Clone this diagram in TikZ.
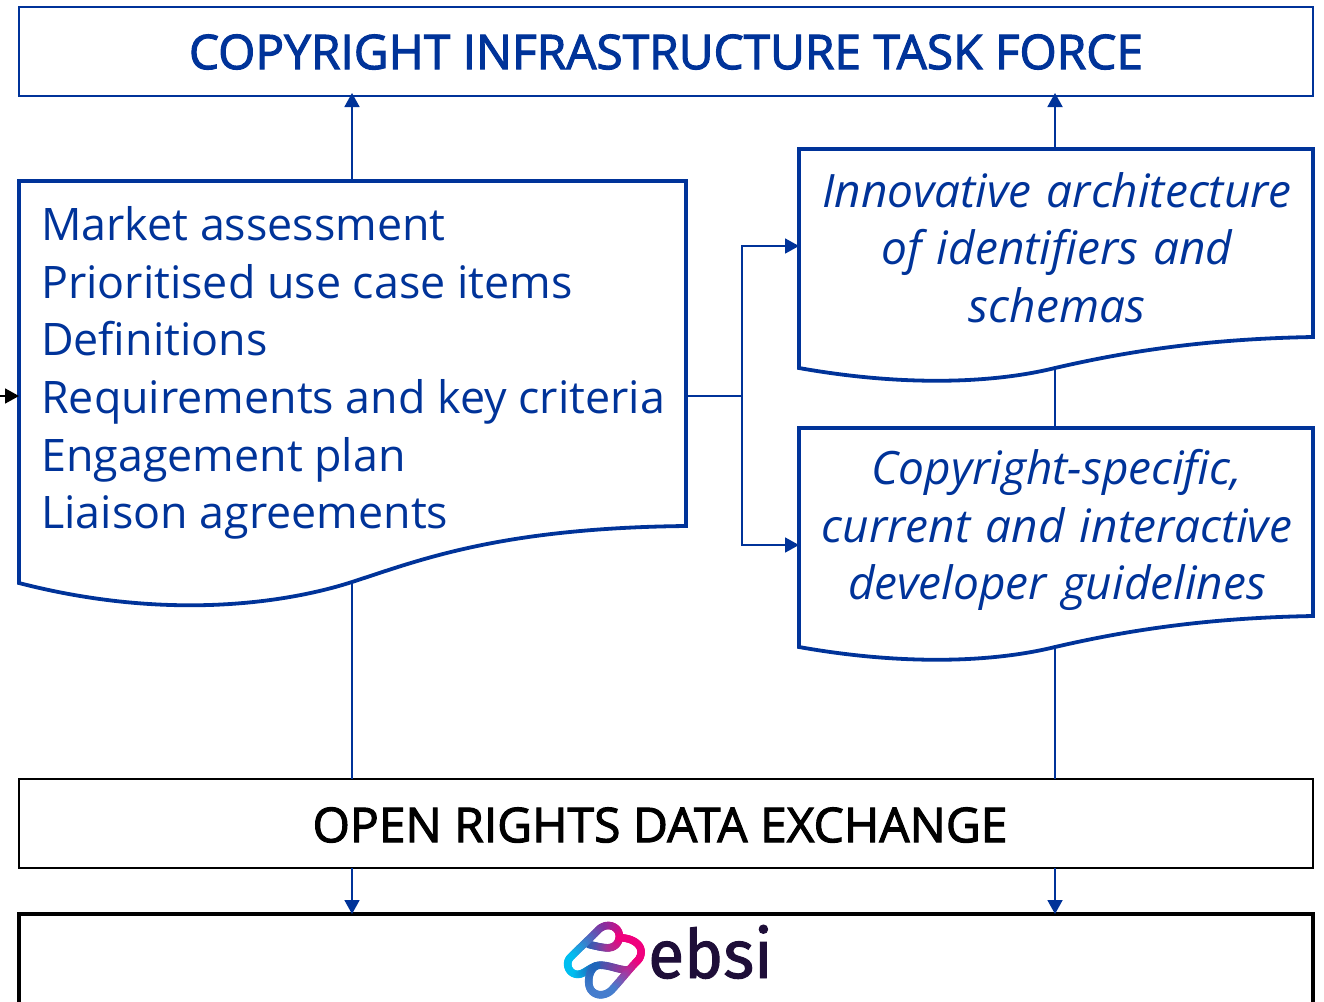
\documentclass[tikz,border=0pt]{standalone}
\usepackage{fontspec}
\setmainfont{Open Sans}
\newfontfamily\titlefont[FakeBold=2.2]{Open Sans}
\newfontfamily\ebsifont[FakeBold=1.4]{Fira Sans}
\usetikzlibrary{arrows.meta,calc}
\definecolor{eublue}{RGB}{0,51,153}
\definecolor{ebsitext}{RGB}{30,14,56}
\definecolor{lcyan}{RGB}{0,190,240}
\definecolor{lblue}{RGB}{30,100,185}
\definecolor{lsteel}{RGB}{70,125,205}
\definecolor{lviolet}{RGB}{130,50,160}
\definecolor{lpurple}{RGB}{165,50,150}
\definecolor{lpink}{RGB}{240,0,125}
% one Bezier piece of the logo, stroked in short pieces from one colour to another
\newcommand{\logoseg}[6]{%
 \foreach \k in {1,...,16}{%
  \pgfmathsetmacro{\ta}{(\k-1)/16}%
  \pgfmathsetmacro{\tb}{\k/16}%
  \pgfmathsetmacro{\pc}{100*(\k-0.5)/16}%
  \pgfmathsetmacro{\aa}{(1-\ta)^3}\pgfmathsetmacro{\ab}{3*(1-\ta)^2*\ta}\pgfmathsetmacro{\ac}{3*(1-\ta)*\ta^2}\pgfmathsetmacro{\ad}{\ta^3}%
  \pgfmathsetmacro{\ba}{(1-\tb)^3}\pgfmathsetmacro{\bb}{3*(1-\tb)^2*\tb}\pgfmathsetmacro{\bc}{3*(1-\tb)*\tb^2}\pgfmathsetmacro{\bd}{\tb^3}%
  \colorlet{cc}{#6!\pc!#5}%
  \draw[logostroke,draw=cc]
   ($\aa*(#1)+\ab*(#2)+\ac*(#3)+\ad*(#4)$) --
   ($\ba*(#1)+\bb*(#2)+\bc*(#3)+\bd*(#4)$);
 }}
\tikzset{
 x=1pt,y=-1pt,
 thinbox/.style={draw=eublue,line width=1.5pt,minimum height=89pt,minimum width=1294pt,anchor=north west,inner sep=0pt,outer sep=0pt,fill=white},
 blackbox/.style={thinbox,draw=black},
 docline/.style={draw=eublue,line width=3.8pt,line join=miter},
 conn/.style={draw=eublue,line width=1.8pt},
 arr/.style={conn,-{Triangle[length=14pt,width=15pt]}},
 bodytxt/.style={text=eublue,font=\fontsize{44.8}{57.6}\selectfont,align=left,anchor=north west,inner sep=0pt},
 itxt/.style={text=eublue,font=\fontsize{46}{57.6}\selectfont\itshape,align=center,inner sep=0pt,text width=510pt},
 anchorbox/.style={inner sep=0pt,outer sep=0pt,minimum width=0pt,minimum height=0pt},
 logostroke/.style={line width=7.6pt,line cap=round},
}
\begin{document}
\begin{tikzpicture}
\useasboundingbox (0,0) rectangle (1324,1001);
\node[thinbox] (cit) at (19,7) {};
\node[text=eublue,font=\fontsize{47.8}{50}\titlefont] (cittxt) at (666,52) {COPYRIGHT INFRASTRUCTURE TASK FORCE};
\node[blackbox] (ord) at (19,779) {};
\node[text=black,font=\fontsize{48}{50}\titlefont] (ordtxt) at (660,825) {OPEN RIGHTS DATA EXCHANGE};
% documents
\draw[docline] (19,181) coordinate (dA) -- (686,181) -- (686,526) .. controls (500,528) and (420,560) .. (352,582) coordinate (dAb) .. controls (290,602) and (170,622) .. (19,583) -- cycle;
\node[anchorbox,minimum width=667pt,minimum height=345pt,anchor=north west] (doca) at (19,181) {};
\node[bodytxt] (atxt) at (41,206.5) {Market assessment\\Prioritised use case items\\Definitions\\Requirements and key criteria\\Engagement plan\\Liaison agreements};
\draw[docline] (799,149) -- (1313,149) -- (1313,337) .. controls (1200,339) and (1120,353) .. (1055,368) coordinate (dBb) .. controls (990,384) and (900,386) .. (799,368) -- cycle;
\node[anchorbox,minimum width=514pt,minimum height=188pt,anchor=north west] (docb) at (799,149) {};
\node[itxt] (btxt) at (1057,247.5) {Innovative architecture\\of identifiers and\\schemas};
\draw[docline] (799,428) -- (1313,428) -- (1313,616) .. controls (1200,618) and (1120,632) .. (1055,647) coordinate (dCb) .. controls (990,663) and (900,665) .. (799,647) -- cycle;
\node[anchorbox,minimum width=514pt,minimum height=188pt,anchor=north west] (docc) at (799,428) {};
\node[itxt] (ctxt) at (1057,530) {Copyright-specific,\\current and interactive\\developer guidelines};
% ebsi box
\node[anchorbox,draw=black,line width=4pt,minimum width=1294pt,minimum height=89.5pt,anchor=north west] (ebsi) at (19,914) {};
% connectors
\coordinate (jn) at (742,396);
\draw[arr] (352,181) -- (352,93);
\draw[arr] (docb.north -| 1055,149) -- (1055,93);
\draw[conn] (doca.east |- jn) -- (jn);
\draw[arr] (jn) |- (docb.west |- 0,246);
\draw[arr] (jn) |- (docc.west |- 0,545);
\draw[conn] (dBb) -- (docc.north -| dBb);
\draw[conn] (dAb) -- (ord.north -| dAb);
\draw[conn] (dCb) -- (ord.north -| dCb);
\draw[arr] (ord.south -| dAb) -- (ebsi.north -| dAb);
\draw[arr] (ord.south -| dCb) -- (ebsi.north -| dCb);
\coordinate (inl) at (0,396);
\draw[line width=1.8pt,-{Triangle[length=14pt,width=15pt]}] (inl) -- (doca.west |- inl);
% logo
\begin{scope}[shift={(555,915)},x=0.3333pt,y=-0.3333pt]
\logoseg{100,88}{130,95}{150,100}{165,98}{lblue}{lpurple}
\logoseg{165,98}{185,95}{197,75}{192,55}{lpurple}{lpink}
\logoseg{192,55}{187,35}{160,22}{135,40}{lpink}{lviolet}
\logoseg{135,40}{105,70}{75,98}{45,128}{lviolet}{lcyan}
\logoseg{45,128}{30,145}{40,175}{65,178}{lcyan}{lcyan}
\logoseg{65,178}{85,180}{100,160}{125,152}{lcyan}{lblue}
\logoseg{125,152}{150,145}{190,165}{215,165}{lblue}{lpurple}
\logoseg{197,68}{235,70}{262,90}{258,115}{lpink}{lpink}
\logoseg{258,115}{256,130}{250,135}{240,145}{lpink}{lpink}
\logoseg{240,145}{215,172}{195,198}{170,225}{lpink}{lsteel}
\logoseg{170,225}{150,245}{118,245}{105,220}{lsteel}{lsteel}
\logoseg{105,220}{95,195}{105,160}{125,152}{lsteel}{lblue}
\end{scope}
\node[text=ebsitext,font=\fontsize{68}{68}\ebsifont,anchor=base west,inner sep=0pt] (ebsitxt) at (648,978) {\scalebox{0.97}[1]{ebsi}};
\end{tikzpicture}
\end{document}
